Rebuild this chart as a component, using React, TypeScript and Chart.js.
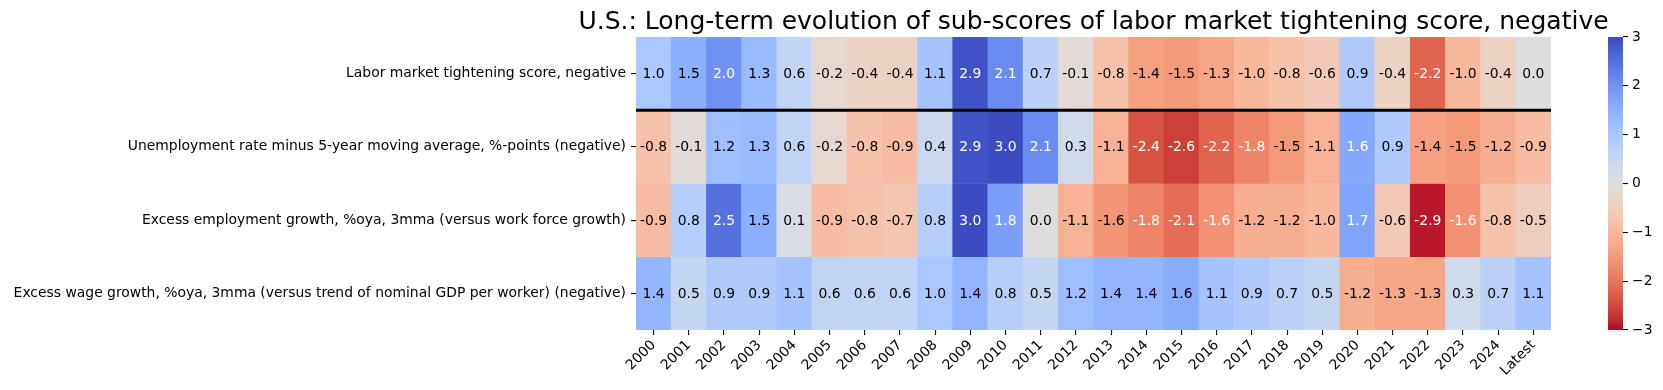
import React, { useEffect, useRef } from "react";
import { Chart, registerables } from "chart.js";

Chart.register(...registerables);

const FONT = "'DejaVu Sans', 'Liberation Sans', sans-serif";
const TITLE = "U.S.: Long-term evolution of sub-scores of labor market tightening score, negative";

const years = [
  "2000", "2001", "2002", "2003", "2004", "2005", "2006", "2007", "2008", "2009",
  "2010", "2011", "2012", "2013", "2014", "2015", "2016", "2017", "2018", "2019",
  "2020", "2021", "2022", "2023", "2024", "Latest",
];

const rowLabels = [
  "Labor market tightening score, negative",
  "Unemployment rate minus 5-year moving average, %-points (negative)",
  "Excess employment growth, %oya, 3mma (versus work force growth)",
  "Excess wage growth, %oya, 3mma (versus trend of nominal GDP per worker) (negative)",
];

const tighteningScore = [
  1.0, 1.5, 2.0, 1.3, 0.6, -0.2, -0.4, -0.4, 1.1, 2.9, 2.1, 0.7, -0.1, -0.8, -1.4, -1.5,
  -1.3, -1.0, -0.8, -0.6, 0.9, -0.4, -2.2, -1.0, -0.4, 0.0,
];
const unemploymentGap = [
  -0.8, -0.1, 1.2, 1.3, 0.6, -0.2, -0.8, -0.9, 0.4, 2.9, 3.0, 2.1, 0.3, -1.1, -2.4, -2.6,
  -2.2, -1.8, -1.5, -1.1, 1.64, 0.9, -1.4, -1.5, -1.2, -0.9,
];
const excessEmployment = [
  -0.9, 0.8, 2.5, 1.5, 0.1, -0.9, -0.8, -0.7, 0.8, 3.0, 1.8, 0.0, -1.1, -1.57, -1.8, -2.1,
  -1.63, -1.2, -1.2, -1.0, 1.7, -0.6, -2.9, -1.63, -0.8, -0.5,
];
const excessWage = [
  1.4, 0.5, 0.9, 0.9, 1.1, 0.6, 0.6, 0.6, 1.0, 1.4, 0.8, 0.5, 1.2, 1.4, 1.4, 1.56,
  1.1, 0.9, 0.7, 0.5, -1.2, -1.3, -1.3, 0.3, 0.7, 1.1,
];

const colorbarMin = -3;
const colorbarMax = 3;

// matplotlib "coolwarm" (Moreland) control colours, 33 evenly spaced stops
const COOLWARM: number[][] = [
  [59, 76, 192], [68, 90, 204], [77, 104, 215], [87, 117, 225], [98, 130, 234],
  [108, 142, 241], [119, 154, 247], [130, 165, 251], [141, 176, 254], [152, 185, 255],
  [163, 194, 255], [174, 201, 253], [184, 208, 249], [194, 213, 244], [204, 217, 238],
  [213, 219, 230], [221, 221, 221], [229, 216, 209], [236, 211, 197], [241, 204, 185],
  [245, 196, 173], [247, 187, 160], [247, 177, 148], [247, 166, 135], [244, 154, 123],
  [241, 141, 111], [236, 127, 99], [229, 112, 88], [222, 96, 77], [213, 80, 66],
  [203, 62, 56], [192, 40, 47], [180, 4, 38],
];

function coolwarmAt(t: number): number[] {
  const c = Math.max(0, Math.min(1, t)) * (COOLWARM.length - 1);
  const i = Math.min(COOLWARM.length - 2, Math.floor(c));
  const f = c - i;
  const a = COOLWARM[i];
  const b = COOLWARM[i + 1];
  return [0, 1, 2].map((k) => a[k] + (b[k] - a[k]) * f);
}

// coolwarm_r with vmin -3, vmax 3
function colorFor(v: number): number[] {
  return coolwarmAt(1 - (v - colorbarMin) / (colorbarMax - colorbarMin));
}

function rgbStr(c: number[]): string {
  return `rgb(${Math.round(c[0])},${Math.round(c[1])},${Math.round(c[2])})`;
}

function luminance(c: number[]): number {
  const lin = c.map((x) => {
    const s = x / 255;
    return s <= 0.03928 ? s / 12.92 : Math.pow((s + 0.055) / 1.055, 2.4);
  });
  return 0.2126 * lin[0] + 0.7152 * lin[1] + 0.0722 * lin[2];
}

const rows = [tighteningScore, unemploymentGap, excessEmployment, excessWage];

const annotatePlugin = {
  id: "cellAnnotations",
  afterDatasetsDraw(chart: any) {
    const ctx = chart.ctx;
    const yScale = chart.scales.y;
    const area = chart.chartArea;
    // separator line between the composite score and its sub-scores
    const ly = yScale.getPixelForValue(1);
    ctx.save();
    ctx.strokeStyle = "#000";
    ctx.lineWidth = 2.8;
    ctx.beginPath();
    ctx.moveTo(area.left, ly);
    ctx.lineTo(area.right, ly);
    ctx.stroke();
    ctx.restore();

    ctx.save();
    ctx.font = `13.9px ${FONT}`;
    ctx.textAlign = "center";
    ctx.textBaseline = "middle";
    rows.forEach((vals, i) => {
      const meta = chart.getDatasetMeta(i);
      meta.data.forEach((el: any, j: number) => {
        const v = vals[j];
        const lum = luminance(colorFor(v));
        ctx.fillStyle = lum > 0.408 ? "#000" : "#fff";
        const cy = (el.y + el.base) / 2;
        ctx.fillText(v.toFixed(1), el.x, cy + 1);
      });
    });
    ctx.restore();

    // title, centred over the heatmap (wider than the plot area)
    ctx.save();
    ctx.font = `25px ${FONT}`;
    ctx.fillStyle = "#000";
    ctx.textAlign = "center";
    ctx.textBaseline = "alphabetic";
    ctx.fillText(TITLE, (area.left + area.right) / 2, 29);
    ctx.restore();
  },
};

const colorbarPlugin = {
  id: "colorbarGradient",
  beforeDatasetsDraw(chart: any) {
    const ctx = chart.ctx;
    const y = chart.scales.y;
    const area = chart.chartArea;
    const top = y.getPixelForValue(colorbarMax);
    const bottom = y.getPixelForValue(colorbarMin);
    const g = ctx.createLinearGradient(0, top, 0, bottom);
    COOLWARM.forEach((c, k) => g.addColorStop(k / (COOLWARM.length - 1), rgbStr(c)));
    ctx.save();
    ctx.fillStyle = g;
    ctx.fillRect(area.left, top, area.right - area.left, bottom - top);
    ctx.restore();
  },
};

export default function App() {
  const mainRef = useRef<HTMLCanvasElement | null>(null);
  const cbRef = useRef<HTMLCanvasElement | null>(null);

  useEffect(() => {
    if (!mainRef.current || !cbRef.current) return;
    const tickFont = { family: FONT, size: 13.9 };

    const datasets = rows.map((vals, i) => ({
      label: rowLabels[i],
      data: vals.map(() => [i, i + 1]),
      backgroundColor: vals.map((v) => rgbStr(colorFor(v))),
      borderWidth: 0,
      grouped: false,
      categoryPercentage: 1,
      barPercentage: 1,
    }));

    const main = new Chart(mainRef.current, {
      type: "bar",
      data: { labels: years, datasets: datasets as any },
      options: {
        animation: false,
        responsive: false,
        events: [],
        layout: { padding: { left: 0, right: 112, top: 37, bottom: 0 } },
        plugins: {
          legend: { display: false },
          tooltip: { enabled: false },
          title: { display: false },
        },
        scales: {
          x: {
            type: "category",
            offset: true,
            grid: {
              offset: false,
              drawOnChartArea: false,
              drawTicks: true,
              tickLength: 5,
              color: "#000",
              lineWidth: 1.1,
            },
            border: { display: false },
            ticks: {
              autoSkip: false,
              minRotation: 45,
              maxRotation: 45,
              padding: 2,
              color: "#000",
              font: tickFont,
            },
            afterFit: (s: any) => {
              s.height = 60;
            },
          },
          y: {
            type: "linear",
            min: 0,
            max: 4,
            reverse: true,
            afterBuildTicks: (s: any) => {
              s.ticks = rowLabels.map((_, i) => ({ value: i + 0.5 }));
            },
            ticks: {
              autoSkip: false,
              padding: 5,
              color: "#000",
              font: tickFont,
              callback: (v: any) => rowLabels[Math.floor(Number(v))],
            },
            grid: {
              drawOnChartArea: false,
              drawTicks: true,
              tickLength: 5,
              color: "#000",
              lineWidth: 1.1,
            },
            border: { display: false },
            afterFit: (s: any) => {
              s.width = 636;
            },
          },
        },
      },
      plugins: [annotatePlugin],
    });

    const cb = new Chart(cbRef.current, {
      type: "scatter",
      data: { datasets: [] },
      options: {
        animation: false,
        responsive: false,
        events: [],
        layout: { padding: { left: 18, right: 0, top: 37, bottom: 60 } },
        plugins: { legend: { display: false }, tooltip: { enabled: false }, title: { display: false } },
        scales: {
          x: { type: "linear", display: false },
          y: {
            type: "linear",
            position: "right",
            min: colorbarMin,
            max: colorbarMax,
            ticks: {
              stepSize: 1,
              padding: 4,
              color: "#000",
              font: tickFont,
              callback: (v: any) => (Number(v) < 0 ? "\u2212" + Math.abs(Number(v)) : String(v)),
            },
            grid: {
              drawOnChartArea: false,
              drawTicks: true,
              tickLength: 5,
              color: "#000",
              lineWidth: 1.1,
            },
            border: { display: false },
            afterFit: (s: any) => {
              s.width = 40;
            },
          },
        },
      },
      plugins: [colorbarPlugin],
    });

    return () => {
      main.destroy();
      cb.destroy();
    };
  }, []);

  return (
    <div style={{ position: "absolute", left: 0, top: 0, width: 1663, height: 390, background: "#fff" }}>
      <canvas
        ref={mainRef}
        width={1663}
        height={390}
        style={{ position: "absolute", left: 0, top: 0, width: 1663, height: 390 }}
      />
      <canvas
        ref={cbRef}
        width={73}
        height={390}
        style={{ position: "absolute", left: 1590, top: 0, width: 73, height: 390 }}
      />
    </div>
  );
}
